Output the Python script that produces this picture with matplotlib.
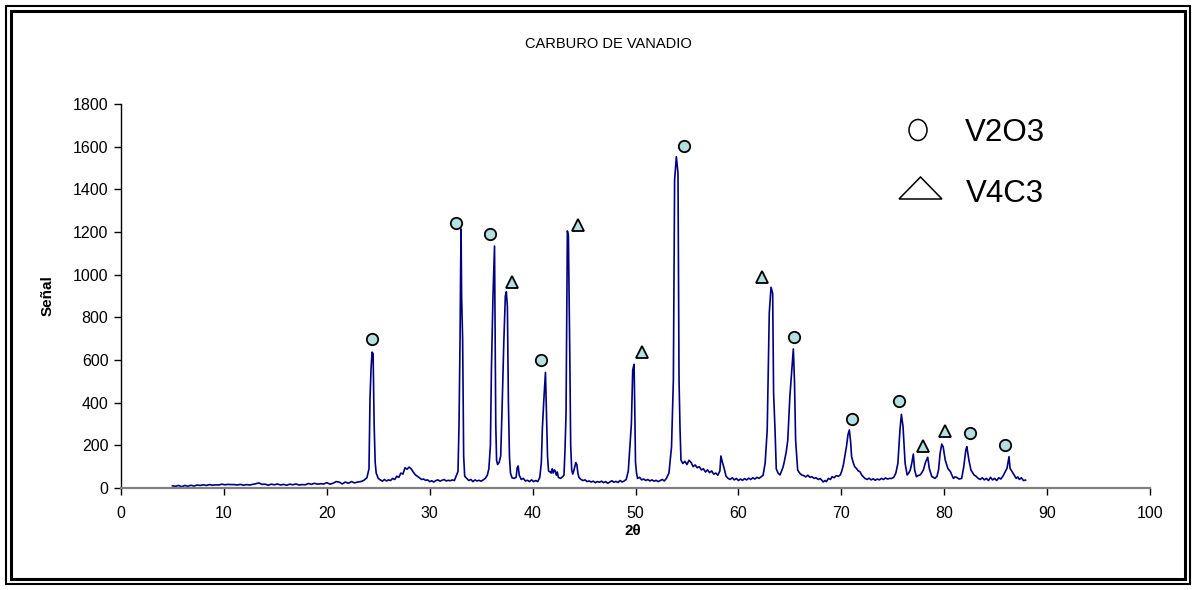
import matplotlib
matplotlib.use("Agg")
import matplotlib.pyplot as plt
from matplotlib.patches import Rectangle, Ellipse, Polygon

plt.rcParams['font.family'] = ['Liberation Sans', 'DejaVu Sans']

# Diffraction scan: (2-theta, counts)
scan = [
    (5.0, 10), (5.3, 8), (5.6, 12), (5.9, 6), (6.2, 12), (6.5, 8), (6.8, 13), (7.1, 9),
    (7.4, 14), (7.7, 12), (8.0, 15), (8.3, 12), (8.6, 16), (8.9, 13), (9.2, 15), (9.5, 14),
    (9.8, 18), (10.1, 15), (10.4, 17), (10.7, 16), (11.0, 16), (11.3, 14), (11.6, 17),
    (11.9, 13), (12.2, 16), (12.5, 14), (12.8, 17), (13.1, 20), (13.4, 24), (13.7, 17),
    (14.0, 18), (14.3, 13), (14.6, 18), (14.9, 15), (15.2, 19), (15.5, 14), (15.8, 17),
    (16.1, 13), (16.4, 18), (16.7, 15), (17.0, 19), (17.3, 14), (17.6, 16), (17.9, 15),
    (18.2, 21), (18.5, 17), (18.8, 22), (19.1, 18), (19.4, 20), (19.7, 19), (20.0, 25),
    (20.3, 18), (20.6, 22), (20.9, 30), (21.2, 28), (21.5, 19), (21.8, 28), (22.1, 22),
    (22.4, 30), (22.7, 24), (23.0, 28), (23.3, 30), (23.6, 36), (23.9, 48),
    (24.1, 90), (24.2, 420), (24.3, 560), (24.4, 637), (24.5, 630), (24.6, 300),
    (24.7, 120), (24.8, 70), (25.0, 45), (25.2, 38), (25.4, 32), (25.6, 40), (25.8, 33),
    (26.0, 38), (26.2, 35), (26.4, 45), (26.6, 40), (26.8, 55), (27.0, 50), (27.2, 70),
    (27.4, 65), (27.6, 95), (27.8, 88), (28.0, 98), (28.2, 90), (28.4, 75), (28.6, 62),
    (28.8, 55), (29.0, 48), (29.2, 40), (29.4, 42), (29.6, 36), (29.8, 38), (30.0, 30),
    (30.2, 34), (30.4, 28), (30.6, 35), (30.8, 38), (31.0, 32), (31.2, 36), (31.4, 40),
    (31.6, 33), (31.8, 36), (32.0, 34), (32.2, 38), (32.4, 35), (32.6, 60), (32.75, 77),
    (32.85, 300), (32.95, 700), (33.0, 1000), (33.05, 1214), (33.1, 900), (33.2, 700),
    (33.3, 150), (33.4, 55),
    (33.6, 45), (33.8, 35), (34.0, 40), (34.2, 30), (34.4, 38), (34.6, 33), (34.8, 36),
    (35.0, 32), (35.2, 38), (35.4, 45), (35.6, 60), (35.75, 90), (35.9, 200), (36.0, 560),
    (36.15, 900), (36.3, 1134), (36.42, 300), (36.5, 130), (36.6, 110), (36.75, 120),
    (36.9, 150), (37.05, 400), (37.2, 680), (37.35, 900), (37.45, 920), (37.55, 850),
    (37.65, 400), (37.75, 150), (37.85, 70), (38.0, 48),
    (38.2, 45), (38.4, 50), (38.5, 95), (38.6, 103), (38.7, 60), (38.9, 40), (39.1, 45),
    (39.3, 33), (39.5, 36), (39.7, 30), (39.9, 38), (40.1, 30), (40.3, 35), (40.5, 30),
    (40.7, 50), (40.85, 120), (40.95, 280), (41.1, 420), (41.25, 542), (41.35, 350),
    (41.45, 150), (41.55, 80), (41.7, 75), (41.8, 70), (41.9, 90), (42.0, 70), (42.1, 85),
    (42.2, 80), (42.3, 60), (42.4, 75), (42.5, 50), (42.7, 45), (42.9, 52), (43.05, 60),
    (43.15, 180), (43.25, 350), (43.38, 1205), (43.48, 1180), (43.55, 900), (43.62, 600),
    (43.7, 200), (43.8, 85), (43.9, 65), (44.0, 80), (44.1, 100), (44.2, 119), (44.3, 110),
    (44.4, 70), (44.5, 50), (44.7, 40), (44.9, 35), (45.1, 38), (45.3, 30), (45.5, 33),
    (45.7, 28), (45.9, 32), (46.1, 25), (46.3, 30), (46.5, 27), (46.7, 32), (46.9, 25),
    (47.1, 30), (47.3, 22), (47.5, 28), (47.7, 34), (47.9, 27), (48.1, 31), (48.3, 26),
    (48.5, 35), (48.7, 28), (48.9, 33), (49.1, 40), (49.3, 80),
    (49.45, 190), (49.6, 300), (49.73, 553), (49.86, 580), (49.92, 400), (50.0, 120),
    (50.1, 70), (50.2, 45), (50.4, 50), (50.6, 38), (50.8, 42), (51.0, 35), (51.2, 40),
    (51.4, 33), (51.6, 38), (51.8, 32), (52.0, 36), (52.2, 30), (52.4, 35), (52.6, 40),
    (52.8, 33), (53.0, 45), (53.25, 70),
    (53.5, 192), (53.68, 506), (53.8, 1444), (53.97, 1553), (54.13, 1475), (54.23, 506),
    (54.33, 272), (54.42, 131), (54.6, 115), (54.8, 125), (55.0, 110), (55.2, 130),
    (55.4, 120), (55.6, 100), (55.8, 108), (56.0, 95), (56.2, 100), (56.4, 85), (56.6, 90),
    (56.8, 75), (57.0, 85), (57.2, 72), (57.4, 80), (57.6, 65), (57.8, 70), (58.0, 60),
    (58.2, 80), (58.3, 150), (58.45, 120), (58.6, 95), (58.8, 55), (59.0, 45),
    (59.2, 40), (59.4, 48), (59.6, 38), (59.8, 45), (60.0, 35), (60.2, 42), (60.4, 36),
    (60.6, 44), (60.8, 38), (61.0, 46), (61.2, 40), (61.4, 48), (61.6, 42), (61.8, 50),
    (62.0, 45), (62.2, 52), (62.4, 60), (62.6, 117), (62.8, 272), (63.0, 820),
    (63.17, 941), (63.33, 912), (63.42, 445), (63.56, 272), (63.68, 90), (63.85, 70),
    (64.04, 61), (64.2, 80), (64.35, 100), (64.46, 123), (64.65, 170), (64.8, 225),
    (65.0, 428), (65.2, 560), (65.34, 652), (65.45, 500), (65.56, 225), (65.76, 84),
    (65.95, 70), (66.15, 61), (66.35, 58), (66.55, 52), (66.75, 60), (66.95, 50),
    (67.15, 53), (67.35, 45), (67.55, 48), (67.75, 40), (67.95, 44), (68.1, 37),
    (68.25, 28), (68.4, 35), (68.55, 30), (68.75, 45), (68.95, 40), (69.1, 53), (69.3, 48),
    (69.5, 58), (69.7, 55), (69.9, 61), (70.05, 80), (70.2, 108), (70.35, 150), (70.5, 194),
    (70.65, 250), (70.78, 272), (70.9, 220), (71.0, 147), (71.15, 120), (71.3, 100),
    (71.5, 90), (71.65, 80), (71.8, 77), (72.0, 60), (72.15, 52), (72.3, 45), (72.5, 40),
    (72.7, 46), (72.9, 38), (73.1, 43), (73.3, 36), (73.5, 42), (73.7, 38), (73.9, 45),
    (74.1, 40), (74.3, 47), (74.5, 42), (74.7, 45), (74.9, 45), (75.1, 50),
    (75.3, 70), (75.5, 116), (75.7, 272), (75.84, 345), (76.0, 287), (76.2, 116),
    (76.4, 61), (76.55, 70), (76.7, 84), (76.85, 116), (77.0, 159), (77.13, 84), (77.3, 53),
    (77.45, 58), (77.65, 61), (77.8, 70), (77.97, 84), (78.2, 123), (78.4, 144), (78.55, 92),
    (78.8, 53), (78.95, 50), (79.1, 45), (79.3, 55), (79.45, 84), (79.6, 162), (79.76, 206),
    (79.9, 193), (80.1, 131), (80.35, 92), (80.6, 77), (80.75, 60), (80.9, 45), (81.05, 52),
    (81.2, 50), (81.45, 42), (81.7, 45), (81.9, 100), (82.1, 178), (82.2, 194), (82.4, 131),
    (82.6, 84), (82.9, 61), (83.1, 55), (83.3, 45), (83.5, 40), (83.7, 48), (83.9, 38),
    (84.1, 45), (84.3, 35), (84.5, 50), (84.7, 38), (84.9, 45), (85.1, 35), (85.3, 48),
    (85.5, 42), (85.7, 55), (85.85, 69), (86.1, 92), (86.3, 147), (86.4, 92), (86.55, 80),
    (86.7, 69), (86.85, 55), (87.0, 45), (87.15, 52), (87.3, 40), (87.5, 48), (87.7, 35),
    (87.9, 37),
]
two_theta = [p[0] for p in scan]
counts = [p[1] for p in scan]

# Phase identification markers
v2o3_theta = [24.4, 32.6, 35.9, 40.8, 54.7, 65.4, 71.07, 75.6, 82.5, 85.9]
v2o3_counts = [698, 1244, 1189, 600, 1605, 708, 323, 409, 256, 203]
v4c3_theta = [38.0, 44.4, 50.6, 62.3, 77.9, 80.1]
v4c3_counts = [967, 1233, 639, 990, 198, 269]

x_ticks = list(range(0, 101, 10))
y_ticks = list(range(0, 1801, 200))

W, H = 1196, 590
fig = plt.figure(figsize=(W / 100, H / 100), dpi=100)
fig.patch.set_facecolor('white')

ax = fig.add_axes([121 / W, 1 - 488 / H, (1150 - 121) / W, (488 - 104) / H])
ax.plot(two_theta, counts, color='#000080', lw=1.2, zorder=2)
ax.plot(v2o3_theta, v2o3_counts, ls='none', marker='o', ms=8.2, mfc='#b6dfdf',
        mec='black', mew=1.3, zorder=3, clip_on=False)
ax.plot(v4c3_theta, v4c3_counts, ls='none', marker='^', ms=8.0, mfc='#b6dfdf',
        mec='black', mew=1.3, zorder=3, clip_on=False)

ax.set_xlim(0, 100)
ax.set_ylim(0, 1800)
ax.set_xticks(x_ticks)
ax.set_yticks(y_ticks)
for side in ('top', 'right'):
    ax.spines[side].set_visible(False)
ax.spines['left'].set_color('black')
ax.spines['left'].set_linewidth(1.0)
ax.spines['bottom'].set_color('#808080')
ax.spines['bottom'].set_linewidth(1.6)
ax.tick_params(direction='out', length=5, width=1, labelsize=11.5, colors='black', pad=4)
ax.tick_params(axis='x', pad=8)

fig.text(608 / W, 1 - 44 / H, 'CARBURO DE VANADIO', ha='center', va='center', fontsize=10.5)
fig.text(633 / W, 1 - 531 / H, '2θ', ha='center', va='center', fontsize=11, fontweight='bold')
fig.text(48 / W, 1 - 296 / H, 'Señal', ha='center', va='center', fontsize=11,
         fontweight='bold', rotation=90)

# Legend symbols and labels
fig.add_artist(Ellipse((918 / W, 1 - 130 / H), 18 / W, 21 / H, transform=fig.transFigure,
                       fill=False, ec='black', lw=1.1))
fig.add_artist(Polygon([(899 / W, 1 - 199 / H), (942 / W, 1 - 199 / H), (920.5 / W, 1 - 177 / H)],
                       closed=True, transform=fig.transFigure, fill=False, ec='black', lw=1.1))
fig.text(965 / W, 1 - 133 / H, 'V2O3', ha='left', va='center', fontsize=22.5)
fig.text(966 / W, 1 - 194 / H, 'V4C3', ha='left', va='center', fontsize=22.5)

# Double frame around the chart
fig.add_artist(Rectangle((6 / W, 6 / H), (W - 12) / W, (H - 12) / H, transform=fig.transFigure,
                         fill=False, ec='black', lw=1.5))
fig.add_artist(Rectangle((11 / W, 11 / H), (W - 22) / W, (H - 22) / H, transform=fig.transFigure,
                         fill=False, ec='black', lw=2.2))

fig.savefig('out.png', dpi=100)
